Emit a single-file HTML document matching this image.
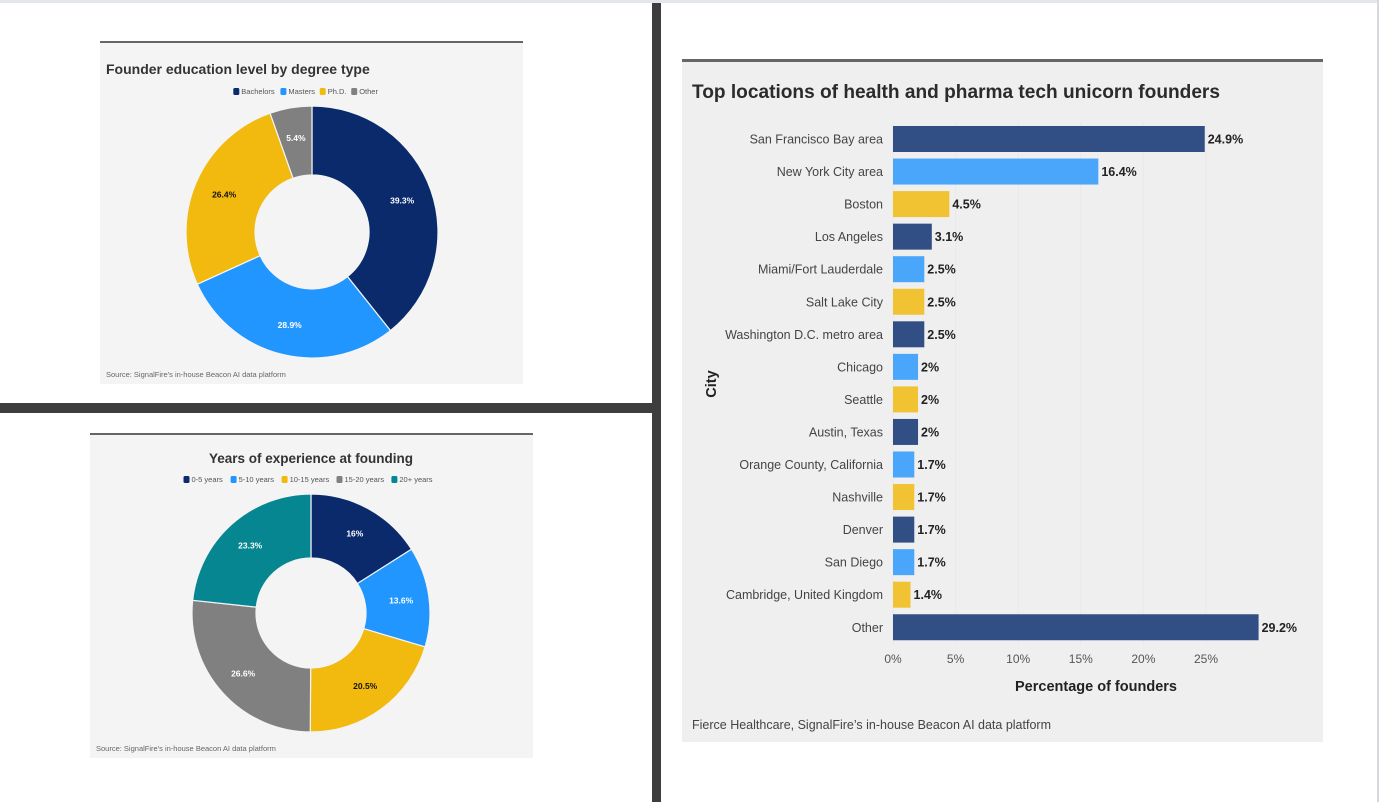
<!DOCTYPE html>
<html><head><meta charset="utf-8">
<style>
html,body{margin:0;padding:0;background:#fff;}
body{width:1379px;height:802px;position:relative;overflow:hidden;font-family:"Liberation Sans",sans-serif;}
svg text{font-family:"Liberation Sans",sans-serif;}
</style></head>
<body>
<svg id="root" width="1379" height="802" viewBox="0 0 1379 802">
  <rect x="0" y="0" width="1379" height="3" fill="#e3e7ec"/>
  <rect x="1377" y="0" width="2" height="802" fill="#d5d9de"/>
  <rect x="652" y="3" width="9" height="799" fill="#3d3d3d"/>
  <rect x="0" y="403" width="652" height="10" fill="#3d3d3d"/>

  <g>
    <rect x="100" y="42" width="423" height="342" fill="#f4f4f4"/>
    <rect x="100" y="41" width="423" height="2" fill="#666"/>
    <text x="106" y="74" font-size="14" font-weight="bold" fill="#333">Founder education level by degree type</text>
    <g id="leg1"></g>
    <g id="pie1"></g>
    <text x="106" y="377" font-size="7.5" fill="#666">Source: SignalFire's in-house Beacon AI data platform</text>
  </g>

  <g>
    <rect x="90" y="434" width="443" height="324" fill="#f4f4f4"/>
    <rect x="90" y="433" width="443" height="2" fill="#666"/>
    <text x="311" y="463" font-size="13.5" font-weight="bold" fill="#333" text-anchor="middle">Years of experience at founding</text>
    <g id="leg2"></g>
    <g id="pie2"></g>
    <text x="96" y="751" font-size="7.5" fill="#666">Source: SignalFire's in-house Beacon AI data platform</text>
  </g>

  <g>
    <rect x="682" y="61" width="641" height="681" fill="#efefef"/>
    <rect x="682" y="59" width="641" height="3" fill="#666"/>
    <text x="692" y="98" font-size="19.5" font-weight="bold" fill="#2b2b2b" textLength="528" lengthAdjust="spacingAndGlyphs">Top locations of health and pharma tech unicorn founders</text>
    <g id="grid"></g>
    <g id="bars"></g>
    <g id="xticks"></g>
    <text x="1096" y="691" font-size="14.5" font-weight="bold" fill="#222" text-anchor="middle">Percentage of founders</text>
    <text transform="translate(716,384) rotate(-90)" font-size="14.5" font-weight="bold" fill="#222" text-anchor="middle">City</text>
    <text x="692" y="729" font-size="12.5" fill="#444">Fierce Healthcare, SignalFire’s in-house Beacon AI data platform</text>
  </g>
</svg>
<script>
const NS="http://www.w3.org/2000/svg";
const eduLabels=["Bachelors","Masters","Ph.D.","Other"];
const eduValues=[39.3,28.9,26.4,5.4];
const eduColors=["#0a2a6b","#2196ff","#f2b90f","#808080"];
const expLabels=["0-5 years","5-10 years","10-15 years","15-20 years","20+ years"];
const expValues=[16,13.6,20.5,26.6,23.3];
const expColors=["#0a2a6b","#2196ff","#f2b90f","#808080","#068690"];
const cities=["San Francisco Bay area","New York City area","Boston","Los Angeles","Miami/Fort Lauderdale","Salt Lake City","Washington D.C. metro area","Chicago","Seattle","Austin, Texas","Orange County, California","Nashville","Denver","San Diego","Cambridge, United Kingdom","Other"];
const cityValues=[24.9,16.4,4.5,3.1,2.5,2.5,2.5,2,2,2,1.7,1.7,1.7,1.7,1.4,29.2];
const xTicks=[0,5,10,15,20,25];
const barColors=["#324f85","#4aa6fb","#f1c232"];

function mk(tag,attrs,parent){const e=document.createElementNS(NS,tag);for(const k in attrs)e.setAttribute(k,attrs[k]);parent.appendChild(e);return e;}

function donut(gid,cx,cy,R,r,vals,cols,darkTextIdx,names){
  const g=document.getElementById(gid);
  const tot=vals.reduce((a,b)=>a+b,0);
  let a0=-Math.PI/2;
  vals.forEach((v,i)=>{
    const a1=a0+v/tot*2*Math.PI;
    const big=(a1-a0)>Math.PI?1:0;
    const p=(a,rad)=>[cx+rad*Math.cos(a),cy+rad*Math.sin(a)];
    const [x0,y0]=p(a0,R),[x1,y1]=p(a1,R),[x2,y2]=p(a1,r),[x3,y3]=p(a0,r);
    const path=mk("path",{d:`M${x0},${y0}A${R},${R} 0 ${big} 1 ${x1},${y1}L${x2},${y2}A${r},${r} 0 ${big} 0 ${x3},${y3}Z`,fill:cols[i],stroke:"#f4f4f4","stroke-width":1.2},g);
    
    
    const am=(a0+a1)/2,rm=(R+r)/2+4;
    const t=mk("text",{x:cx+rm*Math.cos(am),y:cy+rm*Math.sin(am)+3,"font-size":8.5,"font-weight":"bold","text-anchor":"middle",fill:i===darkTextIdx?"#111":"#fff"},g);
    t.textContent=v+"%";
    
    
    a0=a1;
  });
}
donut("pie1",312,232,126,57,eduValues,eduColors,2,eduLabels);
donut("pie2",311,613,119,55,expValues,expColors,2,expLabels);

function legend(gid,cx,y,labels,cols,fs){
  const g=document.getElementById(gid);
  const widths=labels.map(l=>l.length*fs*0.52+12);
  const tw=widths.reduce((a,b)=>a+b,0);
  let x=cx-tw/2;
  labels.forEach((l,i)=>{
    const it=mk("g",{},g);
    
    
    mk("rect",{x:x,y:y-6,width:6,height:7,rx:1.5,fill:cols[i]},it);
    const t=mk("text",{x:x+8,y:y,"font-size":fs,fill:"#555"},it);
    t.textContent=l;
    x+=widths[i];
  });
}
legend("leg1",308,94,eduLabels,eduColors,7.5);
legend("leg2",311,482,expLabels,expColors,7.5);

const x0=893, pxPer=12.52, y0=139, step=32.55, bh=26;
const xs=v=>x0+v*pxPer;
const grid=document.getElementById("grid"), xt=document.getElementById("xticks"), bars=document.getElementById("bars");
xTicks.forEach(t=>{
  const l=mk("line",{x1:xs(t),x2:xs(t),y1:122,y2:645,stroke:"#e9e9e9","stroke-width":1},grid);
  
  
  const tx=mk("text",{x:xs(t),y:663,"font-size":12,fill:"#555","text-anchor":"middle"},xt);
  tx.textContent=t+"%";
  
  
});
cities.forEach((c,i)=>{
  const cy=y0+i*step;
  const lab=mk("text",{x:883,y:cy+4.5,"font-size":12.5,fill:"#444","text-anchor":"end"},bars);
  lab.textContent=c;
  
  
  const r=mk("rect",{x:x0,y:cy-bh/2,width:xs(cityValues[i])-x0,height:bh,fill:barColors[i%3]},bars);
  
  
  const v=mk("text",{x:xs(cityValues[i])+3,y:cy+4.5,"font-size":12.5,"font-weight":"bold",fill:"#222"},bars);
  v.textContent=cityValues[i]+"%";
  
  
});
</script>
</body></html>
